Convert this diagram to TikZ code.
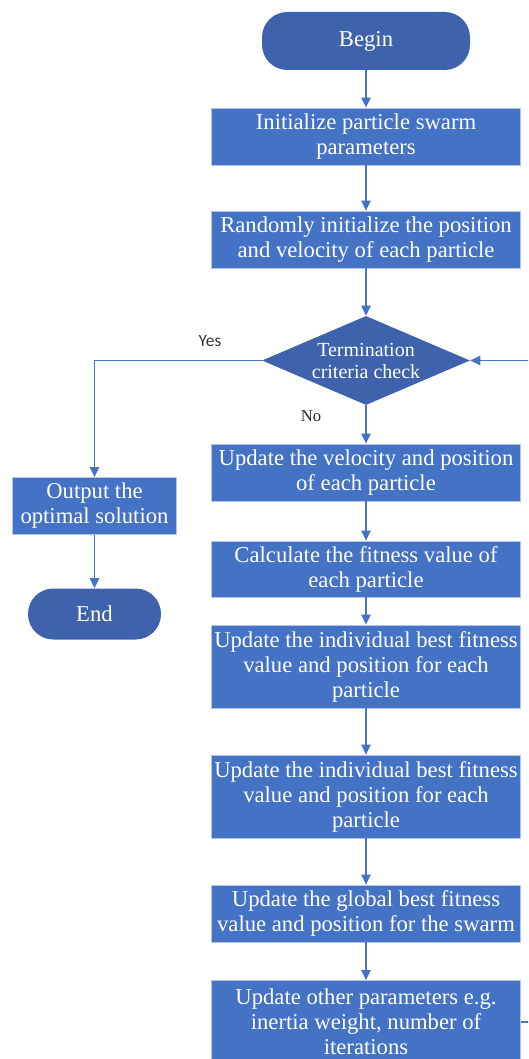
\documentclass[tikz,border=0pt]{standalone}
\usepackage{fontspec}
\setmainfont{Liberation Serif}
\newfontfamily\labelfont{Carlito}
\usepackage{tikz}
\usetikzlibrary{positioning,shapes.geometric,arrows.meta}
\usepackage{xcolor}

\definecolor{boxblue}{HTML}{4472C4}
\definecolor{darkblue}{HTML}{3E63AC}
\definecolor{rimblue}{HTML}{B4C6E7}

\tikzset{
    proc/.style={rectangle, fill=boxblue, draw=rimblue, line width=0.6pt, text=white,
        align=center, inner sep=0pt, minimum width=231.75pt, minimum height=42.75pt,
        font=\fontsize{17}{18.75}\selectfont},
    tall/.style={minimum height=62.25pt},
    term/.style={rectangle, rounded corners=19pt, fill=darkblue, text=white,
        inner sep=0pt, font=\fontsize{17}{18.75}\selectfont},
    check/.style={diamond, fill=darkblue, text=white, align=center, aspect=2.34,
        inner sep=-6pt, minimum width=156pt, minimum height=66.75pt,
        font=\fontsize{15}{16.5}\selectfont},
    arrow/.style={draw=boxblue, line width=1.1pt, ->, >={Triangle[length=7.5pt,width=7pt]}}
}

\begin{document}
\begin{tikzpicture}[x=0.75pt, y=-0.75pt]
            \useasboundingbox (0,0) rectangle (528,1059);
            \clip (0,0) rectangle (528,1059);
            \node[term, minimum width=156pt, minimum height=43.5pt](begin) at (366,41){Begin};
            \node[proc](init) at (366,136.5){Initialize particle swarm\\parameters};
            \node[proc](rand) at (366,239.5){Randomly initialize the position\\and velocity of each particle};
            \node[check](crit) at (366,360.5){Termination\\criteria check};
            \node[proc](vel) at (366,472.5){Update the velocity and position\\of each particle};
            \node[proc, minimum height=42pt](fit) at (366,569){Calculate the fitness value of\\each particle};
            \node[proc, tall](pbesta) at (366,666.5){Update the individual best fitness\\value and position for each\\particle};
            \node[proc, tall](pbestb) at (366,796.5){Update the individual best fitness\\value and position for each\\particle};
            \node[proc](gbest) at (366,913.5){Update the global best fitness\\value and position for the swarm};
            \node[proc, tall](other) at (366,1022){Update other parameters e.g.\\inertia weight, number of\\iterations};
            \node[proc, minimum width=123pt](out) at (94.5,506){Output the\\optimal solution};
            \node[term, minimum width=99.75pt, minimum height=38.25pt](finish) at (94.5,614){End};
            \node[text=black!80, font=\labelfont\fontsize{13}{14}\selectfont](yes) at (210,341){Yes};
            \node[text=black!85, font=\fontsize{12.5}{14}\selectfont](no) at (311,416){No};
            \coordinate (loopturn) at (548,1022);
            \path (begin) edge[arrow] (init);
            \path (init) edge[arrow] (rand);
            \path (rand) edge[arrow] (crit);
            \path (crit) edge[arrow] (vel);
            \path (vel) edge[arrow] (fit);
            \path (fit) edge[arrow] (pbesta);
            \path (pbesta) edge[arrow] (pbestb);
            \path (pbestb) edge[arrow] (gbest);
            \path (gbest) edge[arrow] (other);
            \path (out) edge[arrow] (finish);
            \draw[arrow] (crit.west) -| (out.north);
            \draw[arrow] (other.east) -- (loopturn) |- (crit.east);
\end{tikzpicture}
\end{document}
